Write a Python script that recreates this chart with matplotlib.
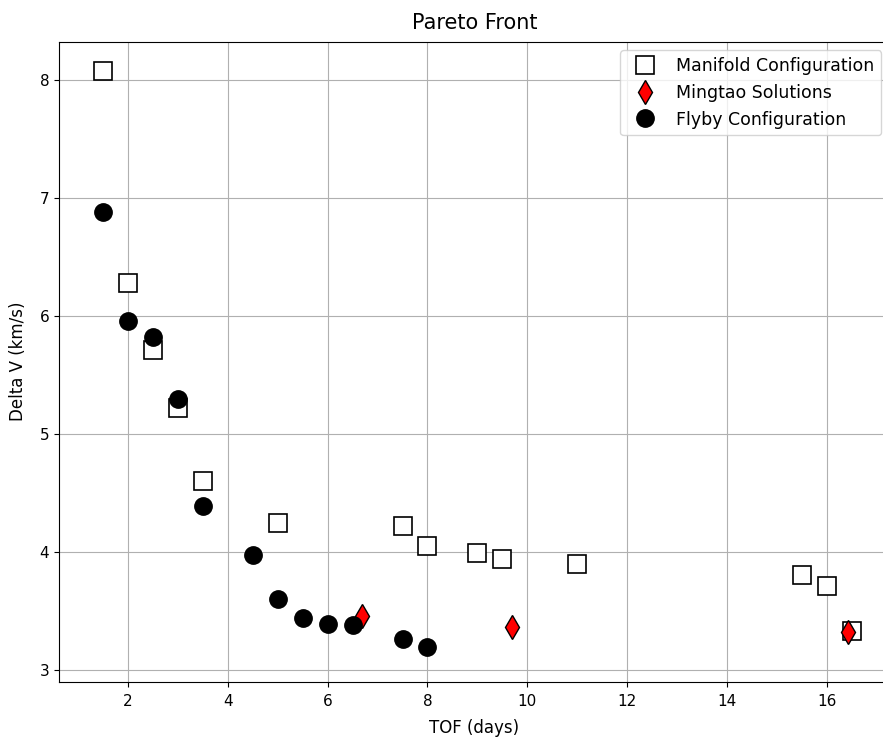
import numpy as np
import matplotlib.pyplot as plt

manifold_tof = [1.5, 2, 2.5, 3, 3.5, 5, 7.5, 8, 9, 9.5, 11, 15.5, 16, 16.5]
manifold_dv = [8.08, 6.28, 5.71, 5.22, 4.60, 4.25, 4.22, 4.05, 3.99, 3.94, 3.90, 3.81, 3.71, 3.33]

mingtao_tof = [6.68, 9.7, 16.42]
mingtao_dv = [3.46, 3.37, 3.32]

flyby_tof = [1.5, 2, 2.5, 3, 3.5, 4.5, 5, 5.5, 6, 6.5, 7.5, 8]
flyby_dv = [6.88, 5.96, 5.82, 5.30, 4.39, 3.98, 3.60, 3.44, 3.39, 3.38, 3.26, 3.20]

fig = plt.figure(figsize=(8.83, 7.4), dpi=100)
# right spine falls just outside the picture in the original
ax = fig.add_axes([0.0668, 0.0784, 0.941, 0.8655])

ax.plot(manifold_tof, manifold_dv, 's', markersize=12.5, markerfacecolor='white',
        markeredgecolor='black', markeredgewidth=1.2, label='Manifold Configuration')
ax.plot(mingtao_tof, mingtao_dv, 'd', markersize=12.5, markerfacecolor='red',
        markeredgecolor='black', markeredgewidth=1.0, label='Mingtao Solutions')
ax.plot(flyby_tof, flyby_dv, 'o', markersize=12.5, color='black', label='Flyby Configuration')

ax.set_xlim(0.62, 17.26)
ax.set_ylim(2.9, 8.326)
ax.set_xticks([2, 4, 6, 8, 10, 12, 14, 16])
ax.tick_params(labelsize=11)
ax.tick_params(axis='x', pad=5)
ax.set_title("Pareto Front", fontsize=15, pad=9)
ax.set_xlabel("TOF (days)", fontsize=12, labelpad=7)
ax.set_ylabel("Delta V (km/s)", fontsize=12, labelpad=9)
ax.grid(True, color='#b0b0b0', linewidth=0.8)
ax.set_axisbelow(True)
ax.legend(loc='upper right', fontsize=12.5)

fig.savefig("out.png", dpi=100)
